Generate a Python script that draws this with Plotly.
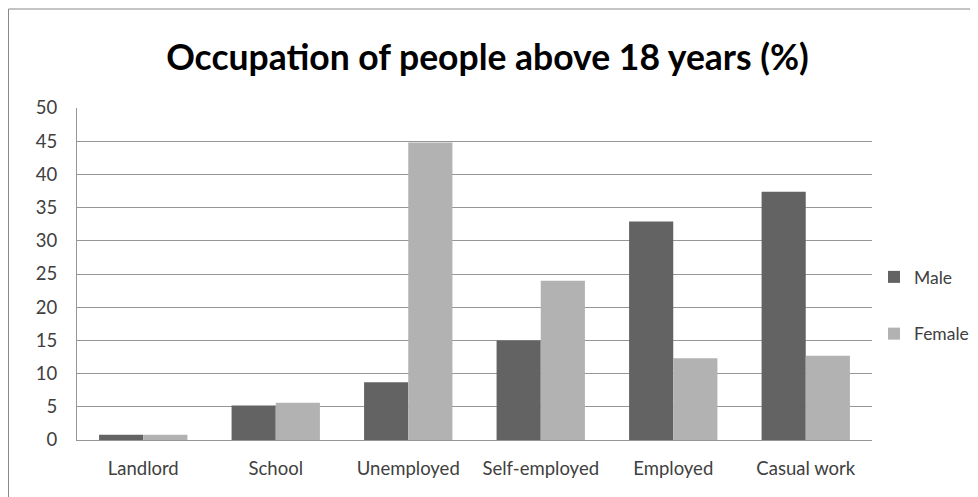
import plotly.graph_objects as go

categories = ["Landlord", "School", "Unemployed", "Self-employed", "Employed", "Casual work"]
male = [0.8, 5.2, 8.7, 15.0, 32.9, 37.4]
female = [0.8, 5.6, 44.8, 24.0, 12.3, 12.7]
y_ticks = [0, 5, 10, 15, 20, 25, 30, 35, 40, 45, 50]

# page has an 8px body margin, so the figure is sized / positioned to compensate
W, H = 970, 489
L, R, T, B = 69, 106, 100, 57
pw, ph = W - L - R, H - T - B

fig = go.Figure()
fig.add_trace(go.Bar(name="Male", x=categories, y=male, marker=dict(color="#636363", line=dict(width=0)),
                     legendgroup="m"))
fig.add_trace(go.Bar(name="Female", x=categories, y=female, marker=dict(color="#b2b2b2", line=dict(width=0)),
                     legendgroup="f"))

font_family = "Lato, 'Open Sans', sans-serif"
fig.update_layout(
    width=W, height=H,
    margin=dict(l=L, r=R, t=T, b=B, autoexpand=False),
    paper_bgcolor="white", plot_bgcolor="white",
    barmode="group", bargap=1/3, bargroupgap=0,
    title=dict(text="<b>Occupation of people above 18 years (%)</b>",
               x=479.5 / W, xanchor="center", y=1 - 49.5 / H, yanchor="middle",
               font=dict(family=font_family, size=35.5, color="#000000")),
    font=dict(family=font_family, size=18.5, color="#404040"),
    legend=dict(x=(866 - L) / pw, xanchor="left", y=1 - (251 - T) / ph, yanchor="top",
                traceorder="grouped", tracegroupgap=31, bgcolor="rgba(0,0,0,0)",
                font=dict(size=17.5, color="#404040"), itemwidth=30),
    showlegend=True,
)
fig.update_yaxes(range=[0, 50], tickvals=y_ticks, showgrid=True, gridcolor="#969696", gridwidth=1,
                 showline=True, linecolor="#969696", linewidth=1, zeroline=False,
                 ticks="", ticklabelstandoff=15, fixedrange=True)
fig.update_xaxes(showline=True, linecolor="#969696", linewidth=1, ticks="", ticklabelstandoff=12,
                 showgrid=False)

# outer chart frame (extends beyond the visible window on the right and bottom)
fig.add_shape(type="rect", xref="paper", yref="paper",
              x0=(0.5 - L) / pw, x1=(W + 20 - L) / pw,
              y0=-(B + 20) / ph, y1=1 + (T - 1) / ph,
              line=dict(color="#888888", width=1), fillcolor="rgba(0,0,0,0)", layer="below")

fig.write_html("out.html")
